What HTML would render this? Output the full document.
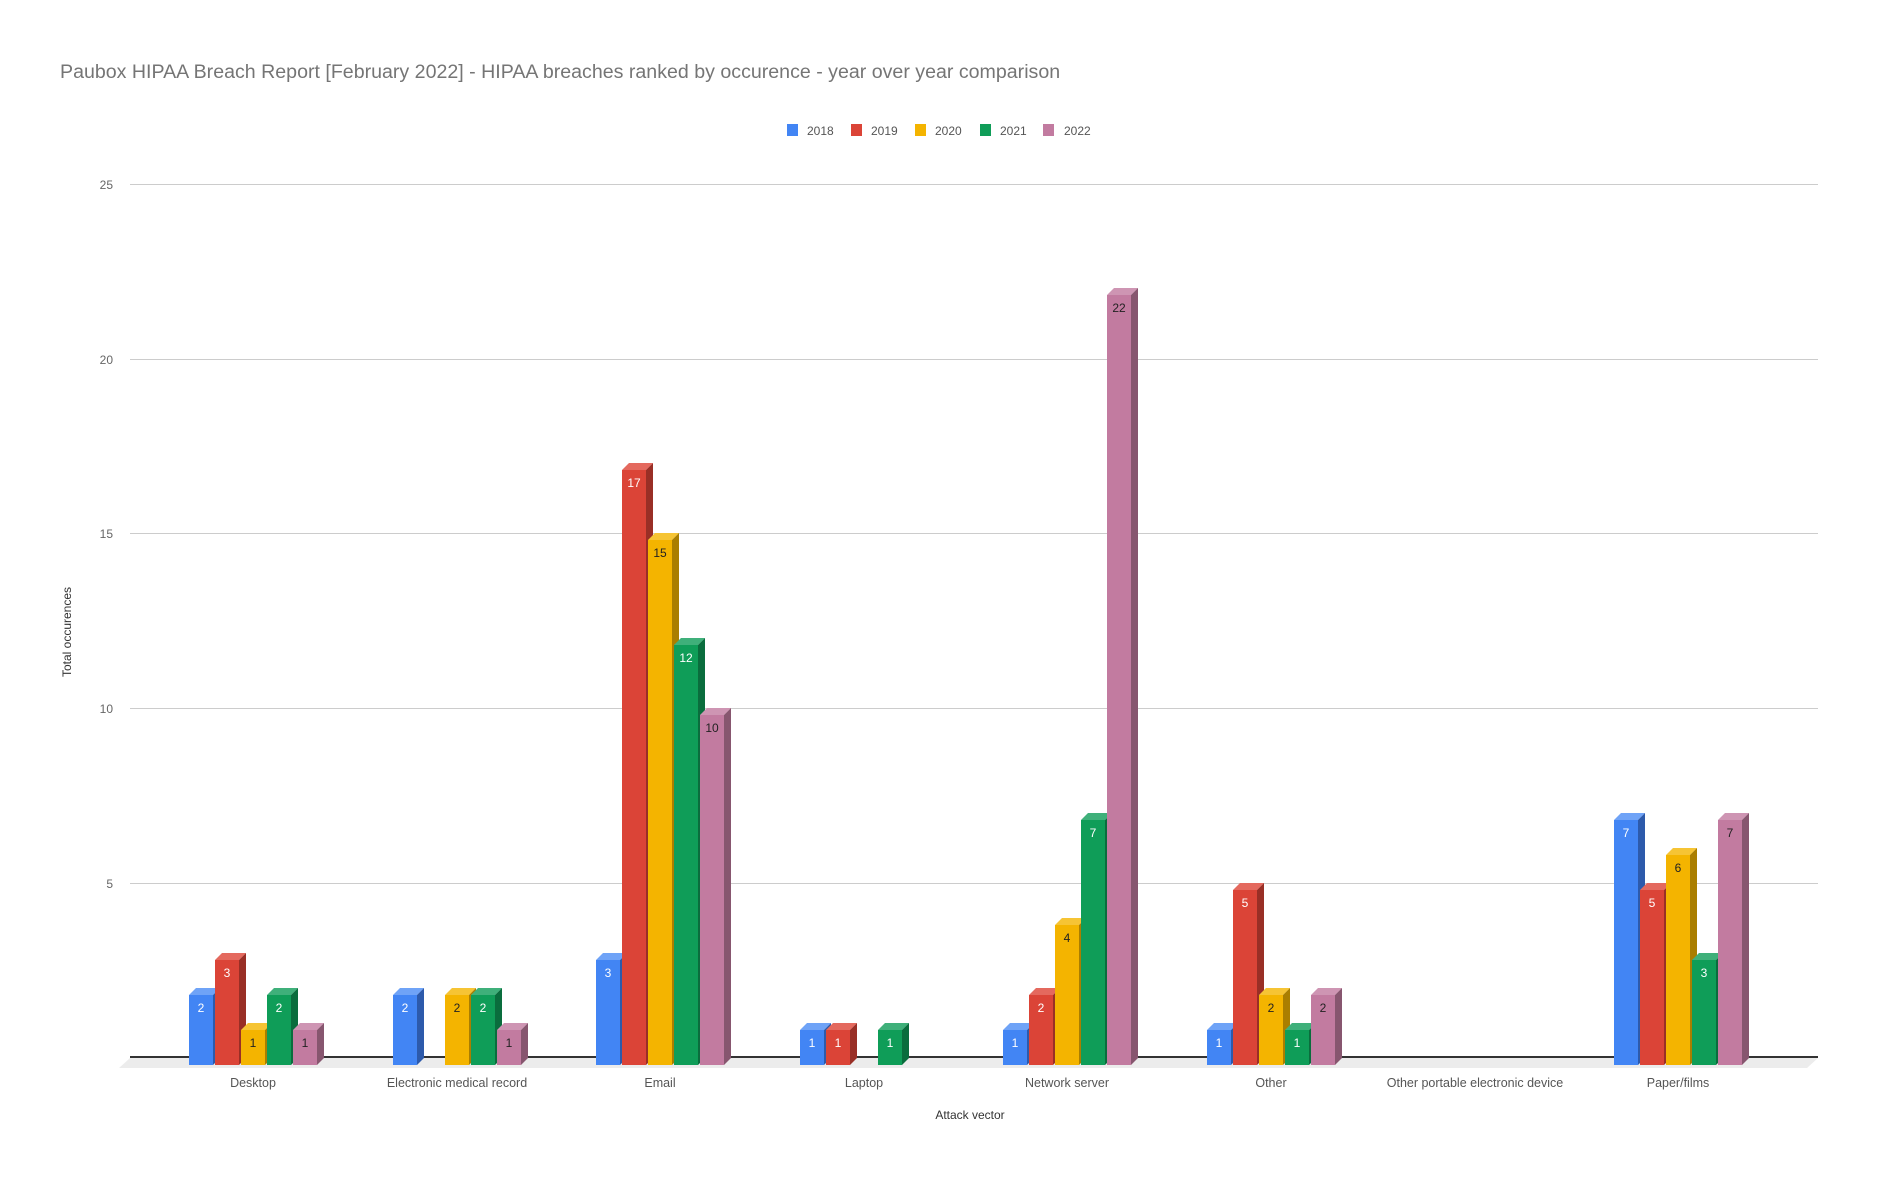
<!DOCTYPE html>
<html><head><meta charset="utf-8"><style>
html,body{margin:0;padding:0;background:#fff}
svg{display:block;font-family:"Liberation Sans",Roboto,sans-serif}
.bl .f{fill:#4285f4}.bl .t{fill:#6fa3f7}.bl .s{fill:#2d5aab}
.rd .f{fill:#db4437}.rd .t{fill:#e4695e}.rd .s{fill:#992f26}
.ye .f{fill:#f4b400}.ye .t{fill:#f6c434}.ye .s{fill:#aa7e00}
.gr .f{fill:#0f9d58}.gr .t{fill:#3fb07a}.gr .s{fill:#0a6d3d}
.pk .f{fill:#c27ba0}.pk .t{fill:#ce95b3}.pk .s{fill:#87566f}
.v{font-size:12px;text-anchor:middle;fill:#fff}
.ye .v,.pk .v{fill:#222}
.tk{font-size:12px;fill:#666;text-anchor:end}
.cl{font-size:12.5px;fill:#555;text-anchor:middle}
.lg{font-size:12px;fill:#555}
</style></head><body>
<svg width="1878" height="1182" viewBox="0 0 1878 1182" xmlns="http://www.w3.org/2000/svg">
<text x="60" y="78" font-size="19.6" fill="#757575">Paubox HIPAA Breach Report [February 2022] - HIPAA breaches ranked by occurence - year over year comparison</text>
<rect x="787" y="124" width="11" height="12" fill="#4285f4"/><text class="lg" x="807" y="135">2018</text>
<rect x="851" y="124" width="11" height="12" fill="#db4437"/><text class="lg" x="871" y="135">2019</text>
<rect x="915" y="124" width="11" height="12" fill="#f4b400"/><text class="lg" x="935" y="135">2020</text>
<rect x="980" y="124" width="11" height="12" fill="#0f9d58"/><text class="lg" x="1000" y="135">2021</text>
<rect x="1043" y="124" width="11" height="12" fill="#c27ba0"/><text class="lg" x="1064" y="135">2022</text>
<g stroke="#cccccc" stroke-width="1">
<line x1="130" y1="184.5" x2="1818" y2="184.5"/><line x1="130" y1="359.5" x2="1818" y2="359.5"/>
<line x1="130" y1="533.5" x2="1818" y2="533.5"/><line x1="130" y1="708.5" x2="1818" y2="708.5"/>
<line x1="130" y1="883.5" x2="1818" y2="883.5"/>
</g>
<text class="tk" x="113" y="189">25</text><text class="tk" x="113" y="364">20</text>
<text class="tk" x="113" y="538">15</text><text class="tk" x="113" y="713">10</text>
<text class="tk" x="113" y="888">5</text>
<polygon points="130,1058 1818,1058 1807,1068 119,1068" fill="#ececec"/>
<line x1="130" y1="1057" x2="1818" y2="1057" stroke="#333" stroke-width="2"/>
<text transform="translate(71,632) rotate(-90)" font-size="12" fill="#333" text-anchor="middle">Total occurences</text>
<text x="970" y="1119" font-size="12" fill="#333" text-anchor="middle">Attack vector</text>
<text class="cl" x="253" y="1087">Desktop</text>
<text class="cl" x="457" y="1087">Electronic medical record</text>
<text class="cl" x="660" y="1087">Email</text>
<text class="cl" x="864" y="1087">Laptop</text>
<text class="cl" x="1067" y="1087">Network server</text>
<text class="cl" x="1271" y="1087">Other</text>
<text class="cl" x="1475" y="1087">Other portable electronic device</text>
<text class="cl" x="1678" y="1087">Paper/films</text>

<g class="bl" transform="translate(189,995)"><polygon class="t" points="0,0 7,-7 31,-7 24,0"/><polygon class="s" points="24,0 31,-7 31,63 24,70"/><rect class="f" width="24" height="70"/><text class="v" x="12" y="17">2</text></g>
<g class="rd" transform="translate(215,960)"><polygon class="t" points="0,0 7,-7 31,-7 24,0"/><polygon class="s" points="24,0 31,-7 31,98 24,105"/><rect class="f" width="24" height="105"/><text class="v" x="12" y="17">3</text></g>
<g class="ye" transform="translate(241,1030)"><polygon class="t" points="0,0 7,-7 31,-7 24,0"/><polygon class="s" points="24,0 31,-7 31,28 24,35"/><rect class="f" width="24" height="35"/><text class="v" x="12" y="17">1</text></g>
<g class="gr" transform="translate(267,995)"><polygon class="t" points="0,0 7,-7 31,-7 24,0"/><polygon class="s" points="24,0 31,-7 31,63 24,70"/><rect class="f" width="24" height="70"/><text class="v" x="12" y="17">2</text></g>
<g class="pk" transform="translate(293,1030)"><polygon class="t" points="0,0 7,-7 31,-7 24,0"/><polygon class="s" points="24,0 31,-7 31,28 24,35"/><rect class="f" width="24" height="35"/><text class="v" x="12" y="17">1</text></g>
<g class="bl" transform="translate(393,995)"><polygon class="t" points="0,0 7,-7 31,-7 24,0"/><polygon class="s" points="24,0 31,-7 31,63 24,70"/><rect class="f" width="24" height="70"/><text class="v" x="12" y="17">2</text></g>
<g class="ye" transform="translate(445,995)"><polygon class="t" points="0,0 7,-7 31,-7 24,0"/><polygon class="s" points="24,0 31,-7 31,63 24,70"/><rect class="f" width="24" height="70"/><text class="v" x="12" y="17">2</text></g>
<g class="gr" transform="translate(471,995)"><polygon class="t" points="0,0 7,-7 31,-7 24,0"/><polygon class="s" points="24,0 31,-7 31,63 24,70"/><rect class="f" width="24" height="70"/><text class="v" x="12" y="17">2</text></g>
<g class="pk" transform="translate(497,1030)"><polygon class="t" points="0,0 7,-7 31,-7 24,0"/><polygon class="s" points="24,0 31,-7 31,28 24,35"/><rect class="f" width="24" height="35"/><text class="v" x="12" y="17">1</text></g>
<g class="bl" transform="translate(596,960)"><polygon class="t" points="0,0 7,-7 31,-7 24,0"/><polygon class="s" points="24,0 31,-7 31,98 24,105"/><rect class="f" width="24" height="105"/><text class="v" x="12" y="17">3</text></g>
<g class="rd" transform="translate(622,470)"><polygon class="t" points="0,0 7,-7 31,-7 24,0"/><polygon class="s" points="24,0 31,-7 31,588 24,595"/><rect class="f" width="24" height="595"/><text class="v" x="12" y="17">17</text></g>
<g class="ye" transform="translate(648,540)"><polygon class="t" points="0,0 7,-7 31,-7 24,0"/><polygon class="s" points="24,0 31,-7 31,518 24,525"/><rect class="f" width="24" height="525"/><text class="v" x="12" y="17">15</text></g>
<g class="gr" transform="translate(674,645)"><polygon class="t" points="0,0 7,-7 31,-7 24,0"/><polygon class="s" points="24,0 31,-7 31,413 24,420"/><rect class="f" width="24" height="420"/><text class="v" x="12" y="17">12</text></g>
<g class="pk" transform="translate(700,715)"><polygon class="t" points="0,0 7,-7 31,-7 24,0"/><polygon class="s" points="24,0 31,-7 31,343 24,350"/><rect class="f" width="24" height="350"/><text class="v" x="12" y="17">10</text></g>
<g class="bl" transform="translate(800,1030)"><polygon class="t" points="0,0 7,-7 31,-7 24,0"/><polygon class="s" points="24,0 31,-7 31,28 24,35"/><rect class="f" width="24" height="35"/><text class="v" x="12" y="17">1</text></g>
<g class="rd" transform="translate(826,1030)"><polygon class="t" points="0,0 7,-7 31,-7 24,0"/><polygon class="s" points="24,0 31,-7 31,28 24,35"/><rect class="f" width="24" height="35"/><text class="v" x="12" y="17">1</text></g>
<g class="gr" transform="translate(878,1030)"><polygon class="t" points="0,0 7,-7 31,-7 24,0"/><polygon class="s" points="24,0 31,-7 31,28 24,35"/><rect class="f" width="24" height="35"/><text class="v" x="12" y="17">1</text></g>
<g class="bl" transform="translate(1003,1030)"><polygon class="t" points="0,0 7,-7 31,-7 24,0"/><polygon class="s" points="24,0 31,-7 31,28 24,35"/><rect class="f" width="24" height="35"/><text class="v" x="12" y="17">1</text></g>
<g class="rd" transform="translate(1029,995)"><polygon class="t" points="0,0 7,-7 31,-7 24,0"/><polygon class="s" points="24,0 31,-7 31,63 24,70"/><rect class="f" width="24" height="70"/><text class="v" x="12" y="17">2</text></g>
<g class="ye" transform="translate(1055,925)"><polygon class="t" points="0,0 7,-7 31,-7 24,0"/><polygon class="s" points="24,0 31,-7 31,133 24,140"/><rect class="f" width="24" height="140"/><text class="v" x="12" y="17">4</text></g>
<g class="gr" transform="translate(1081,820)"><polygon class="t" points="0,0 7,-7 31,-7 24,0"/><polygon class="s" points="24,0 31,-7 31,238 24,245"/><rect class="f" width="24" height="245"/><text class="v" x="12" y="17">7</text></g>
<g class="pk" transform="translate(1107,295)"><polygon class="t" points="0,0 7,-7 31,-7 24,0"/><polygon class="s" points="24,0 31,-7 31,763 24,770"/><rect class="f" width="24" height="770"/><text class="v" x="12" y="17">22</text></g>
<g class="bl" transform="translate(1207,1030)"><polygon class="t" points="0,0 7,-7 31,-7 24,0"/><polygon class="s" points="24,0 31,-7 31,28 24,35"/><rect class="f" width="24" height="35"/><text class="v" x="12" y="17">1</text></g>
<g class="rd" transform="translate(1233,890)"><polygon class="t" points="0,0 7,-7 31,-7 24,0"/><polygon class="s" points="24,0 31,-7 31,168 24,175"/><rect class="f" width="24" height="175"/><text class="v" x="12" y="17">5</text></g>
<g class="ye" transform="translate(1259,995)"><polygon class="t" points="0,0 7,-7 31,-7 24,0"/><polygon class="s" points="24,0 31,-7 31,63 24,70"/><rect class="f" width="24" height="70"/><text class="v" x="12" y="17">2</text></g>
<g class="gr" transform="translate(1285,1030)"><polygon class="t" points="0,0 7,-7 31,-7 24,0"/><polygon class="s" points="24,0 31,-7 31,28 24,35"/><rect class="f" width="24" height="35"/><text class="v" x="12" y="17">1</text></g>
<g class="pk" transform="translate(1311,995)"><polygon class="t" points="0,0 7,-7 31,-7 24,0"/><polygon class="s" points="24,0 31,-7 31,63 24,70"/><rect class="f" width="24" height="70"/><text class="v" x="12" y="17">2</text></g>
<g class="bl" transform="translate(1614,820)"><polygon class="t" points="0,0 7,-7 31,-7 24,0"/><polygon class="s" points="24,0 31,-7 31,238 24,245"/><rect class="f" width="24" height="245"/><text class="v" x="12" y="17">7</text></g>
<g class="rd" transform="translate(1640,890)"><polygon class="t" points="0,0 7,-7 31,-7 24,0"/><polygon class="s" points="24,0 31,-7 31,168 24,175"/><rect class="f" width="24" height="175"/><text class="v" x="12" y="17">5</text></g>
<g class="ye" transform="translate(1666,855)"><polygon class="t" points="0,0 7,-7 31,-7 24,0"/><polygon class="s" points="24,0 31,-7 31,203 24,210"/><rect class="f" width="24" height="210"/><text class="v" x="12" y="17">6</text></g>
<g class="gr" transform="translate(1692,960)"><polygon class="t" points="0,0 7,-7 31,-7 24,0"/><polygon class="s" points="24,0 31,-7 31,98 24,105"/><rect class="f" width="24" height="105"/><text class="v" x="12" y="17">3</text></g>
<g class="pk" transform="translate(1718,820)"><polygon class="t" points="0,0 7,-7 31,-7 24,0"/><polygon class="s" points="24,0 31,-7 31,238 24,245"/><rect class="f" width="24" height="245"/><text class="v" x="12" y="17">7</text></g>
</svg>
</body></html>
